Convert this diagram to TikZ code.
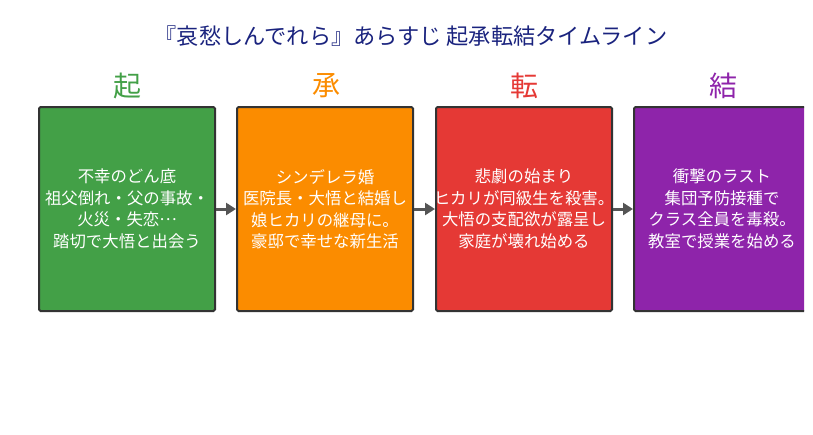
\documentclass[tikz,border=0pt]{standalone}
\usepackage{fontspec}
\setmainfont{Noto Sans CJK JP}
\usetikzlibrary{arrows.meta}
\definecolor{cgreen}{HTML}{43A047}
\definecolor{corange}{HTML}{FB8C00}
\definecolor{cred}{HTML}{E53935}
\definecolor{cpurple}{HTML}{8E24AA}
\definecolor{ctitle}{HTML}{1A237E}
\definecolor{cborder}{HTML}{333333}
\definecolor{carrow}{HTML}{555555}
\tikzset{
  stagebox/.style={draw=cborder, line width=2pt, rounded corners=1.5pt, minimum width=176pt, minimum height=204pt, inner sep=0pt},
  boxtext/.style={inner sep=0pt, text=white, font=\fontsize{16.4}{21.5}\selectfont, align=center},
  header/.style={font=\fontsize{28}{30}\selectfont, inner sep=0pt},
  conn/.style={-{Triangle[length=10pt,width=12pt]}, draw=carrow, line width=3pt}
}
\begin{document}
\begin{tikzpicture}[x=1pt,y=-1pt]
\useasboundingbox (0,0) rectangle (813,434);
\node[font=\fontsize{22.2}{24}\selectfont, text=ctitle, inner sep=0pt] (title) at (411,36) {『哀愁しんでれら』あらすじ 起承転結タイムライン};
\node[header, text=cgreen] (h1) at (127,86) {起};
\node[header, text=corange] (h2) at (326,86) {承};
\node[header, text=cred] (h3) at (524,86) {転};
\node[header, text=cpurple] (h4) at (723,86) {結};
\node[stagebox, fill=cgreen] (b1) at (127,209) {};
\node[boxtext] (t1) at (b1) {不幸のどん底\\祖父倒れ・父の事故・\\火災・失恋\raisebox{0.32em}{…}\\踏切で大悟と出会う};
\node[stagebox, fill=corange] (b2) at (325,209) {};
\node[boxtext] (t2) at (b2) {シンデレラ婚\\医院長・大悟と結婚し\\娘ヒカリの継母に。\\豪邸で幸せな新生活};
\node[stagebox, fill=cred] (b3) at (524,209) {};
\node[boxtext] (t3) at (b3) {悲劇の始まり\\ヒカリが同級生を殺害。\\大悟の支配欲が露呈し\\家庭が壊れ始める};
\begin{scope}
\clip (0,0) rectangle (804,434);
\node[stagebox, fill=cpurple] (b4) at (722,209) {};
\end{scope}
\node[boxtext] (t4) at (b4) {衝撃のラスト\\集団予防接種で\\クラス全員を毒殺。\\教室で授業を始める};
\draw[conn] (b1.east) -- (b2.west);
\draw[conn] (b2.east) -- (b3.west);
\draw[conn] (b3.east) -- (b4.west);
\end{tikzpicture}
\end{document}
